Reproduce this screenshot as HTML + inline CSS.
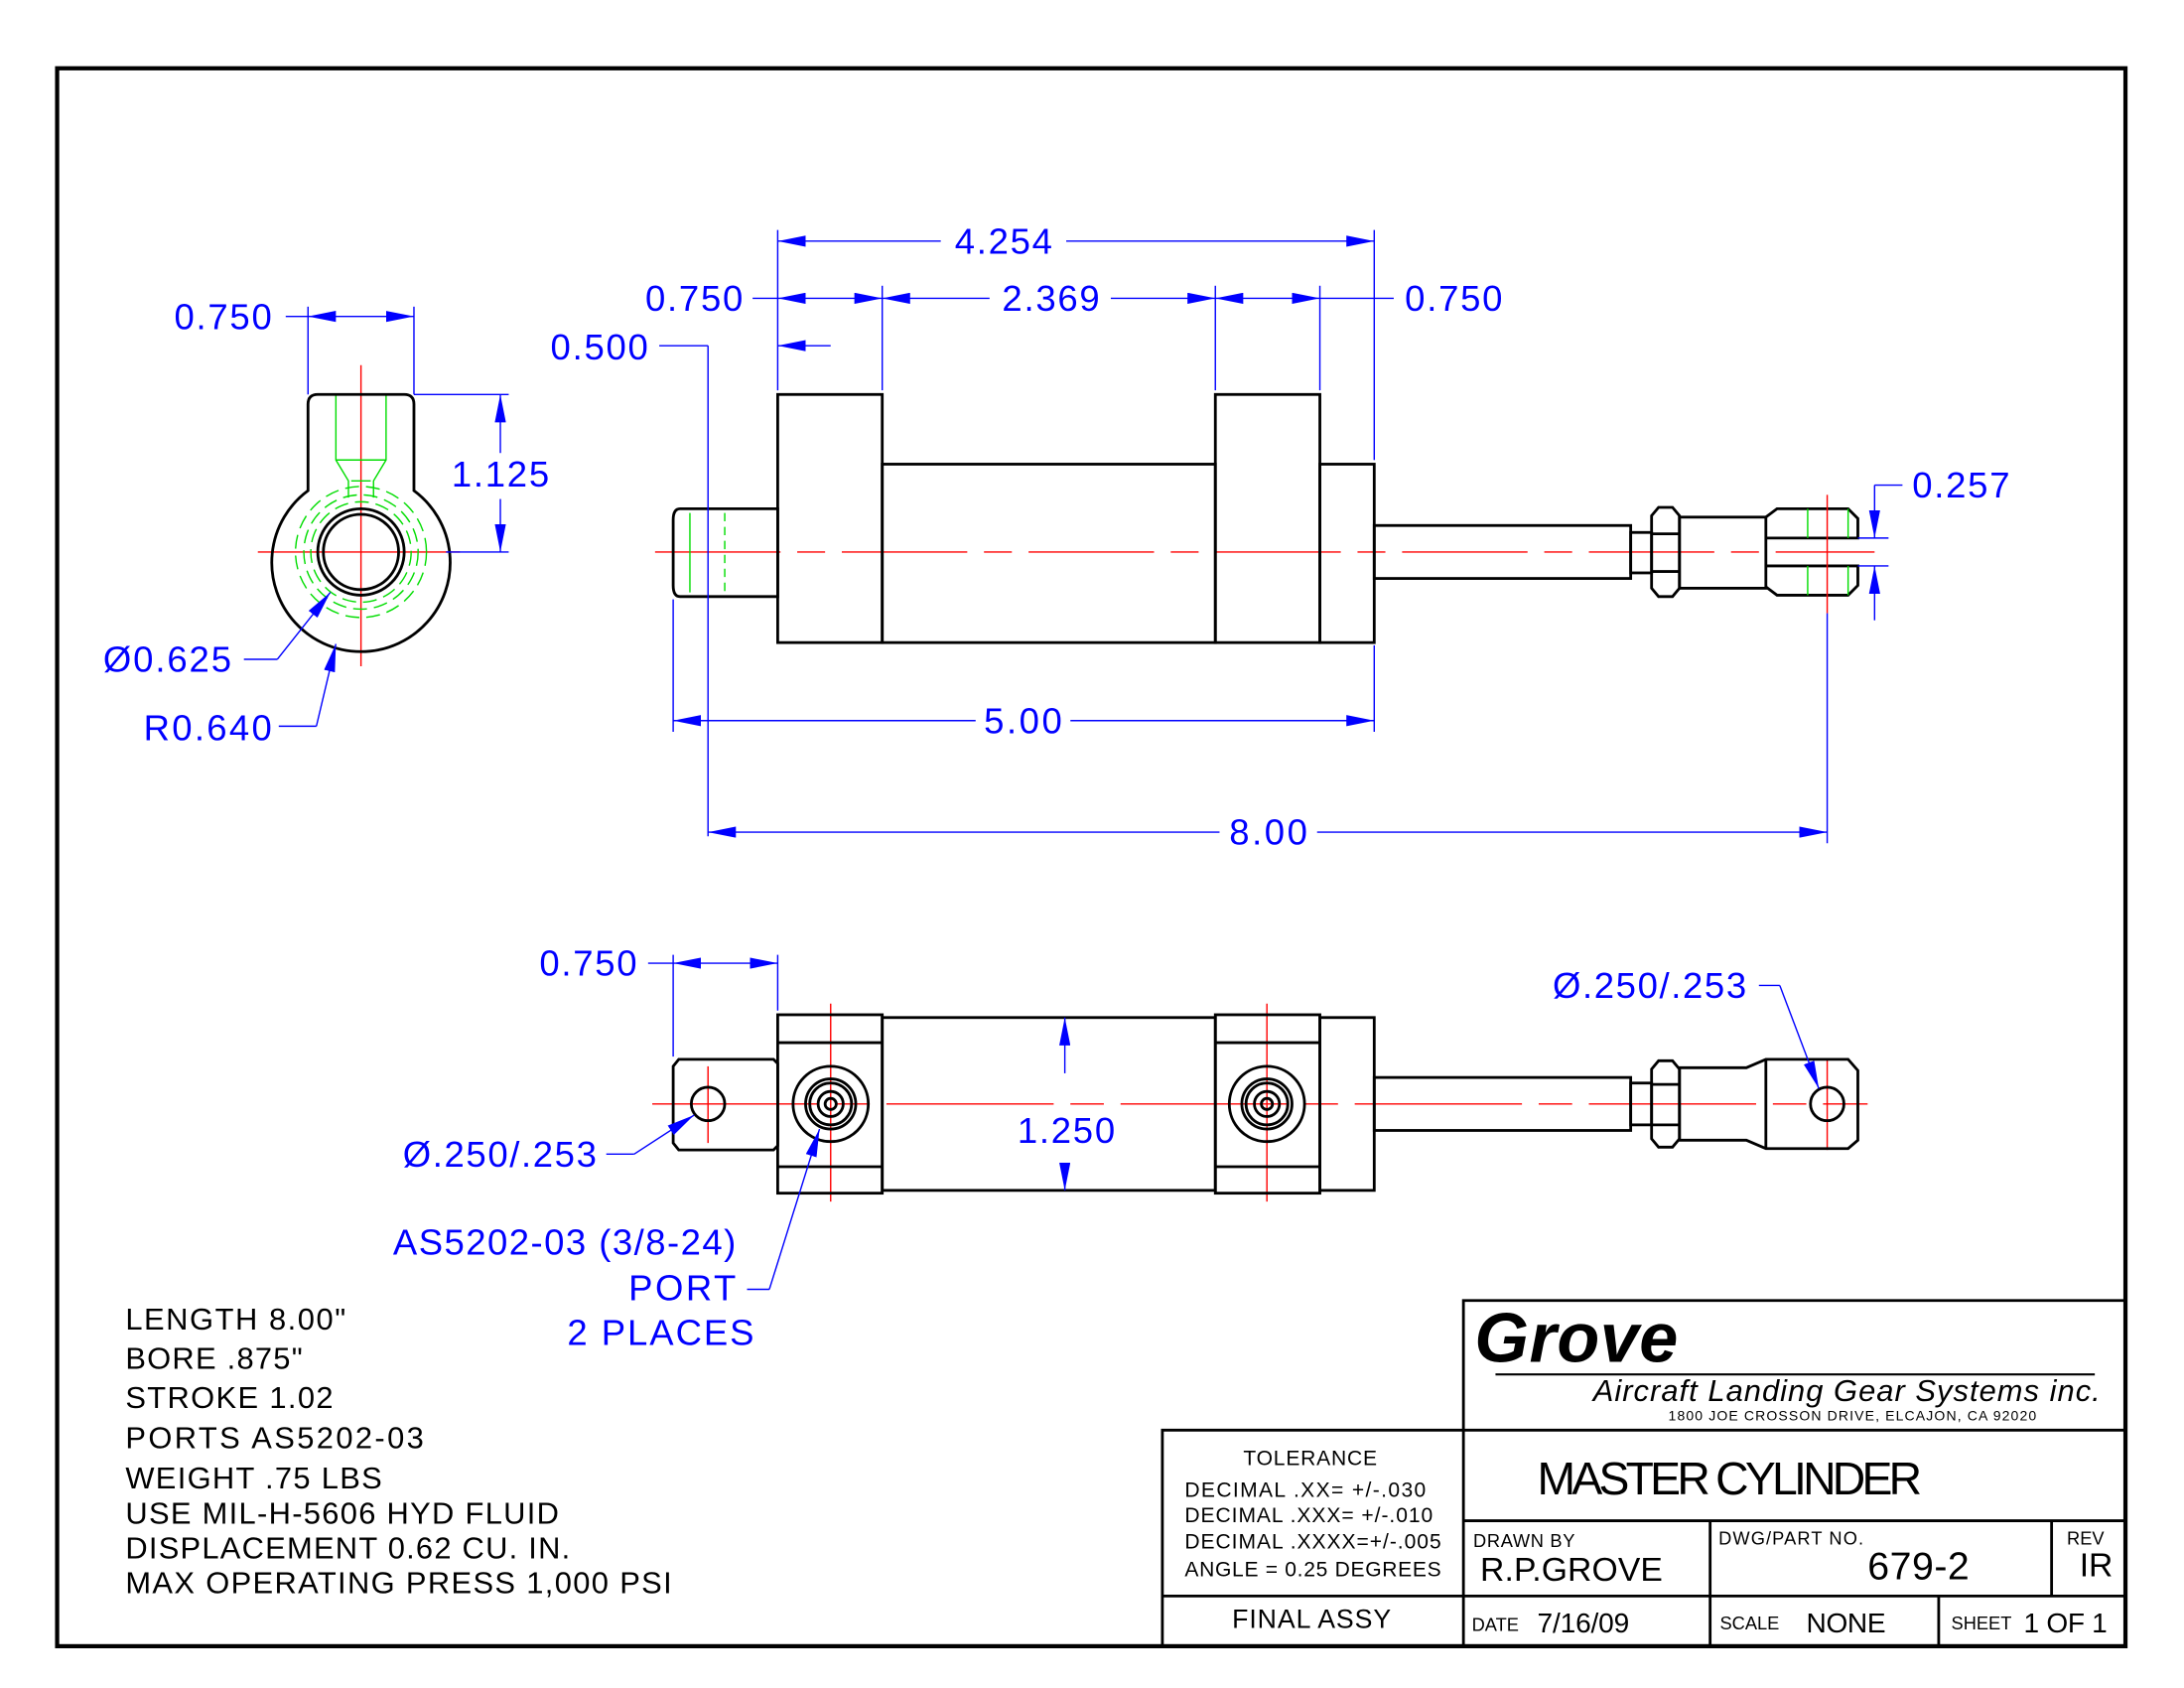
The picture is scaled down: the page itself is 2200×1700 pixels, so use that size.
<!DOCTYPE html>
<html><head><meta charset="utf-8"><style>html,body{margin:0;padding:0;background:#fff}svg{display:block}</style></head>
<body>
<svg width="2200" height="1700" viewBox="0 0 1567 1211" preserveAspectRatio="none" xmlns="http://www.w3.org/2000/svg" font-family="Liberation Sans, sans-serif">
<defs>
<marker id="a" viewBox="0 0 20 8" refX="20" refY="4" markerWidth="20" markerHeight="8" markerUnits="userSpaceOnUse" orient="auto-start-reverse"><path d="M0,0 L20,4 L0,8z" fill="#0000ff"/></marker>
</defs>
<rect x="41" y="49" width="1484" height="1132" fill="none" stroke="#000" stroke-width="3"/>

<!-- TOP VIEW -->
<g stroke="red" stroke-width="1" fill="none">
<line x1="470" y1="396" x2="1345" y2="396" stroke-dasharray="90,12,20,12"/>
</g>
<g stroke="#000" stroke-width="2" fill="none">
<path d="M488,365 L558,365 L558,428 L488,428 Q483,428 483,420 L483,373 Q483,365 488,365z"/>
<rect x="558" y="283" width="75" height="178"/>
<rect x="633" y="333" width="239" height="128"/>
<rect x="872" y="283" width="75" height="178"/>
<rect x="947" y="333" width="39" height="128"/>
<rect x="986" y="377" width="184" height="38"/>
<rect x="1170" y="382" width="15" height="29"/>
<path d="M1185,370 L1190,364 L1200,364 L1205,370 L1205,422 L1200,428 L1190,428 L1185,422z M1185,383 L1205,383 M1185,410 L1205,410"/>
<rect x="1205" y="371" width="62" height="51"/>
<path d="M1267,371 L1275,365 L1326,365 L1333,372 L1333,386 L1267,386 M1267,406 L1333,406 L1333,420 L1326,427 L1275,427 L1267,421"/>
</g>
<g stroke="#00dd00" stroke-width="1"><line x1="1297" y1="365" x2="1297" y2="386"/><line x1="1326" y1="365" x2="1326" y2="386"/><line x1="1297" y1="406" x2="1297" y2="427"/><line x1="1326" y1="406" x2="1326" y2="427"/><line x1="495" y1="368" x2="495" y2="425"/><line x1="520" y1="368" x2="520" y2="425" stroke-dasharray="6,4"/></g>
<line x1="1311" y1="355" x2="1311" y2="440" stroke="red"/>

<!-- EYE VIEW -->
<g stroke="red" stroke-width="1"><line x1="185" y1="396" x2="330" y2="396"/><line x1="259" y1="262" x2="259" y2="478"/></g>
<g stroke="#00dd00" stroke-width="1" fill="none" stroke-dasharray="10,5">
<circle cx="259" cy="396" r="47"/><circle cx="259" cy="396" r="41"/><circle cx="259" cy="396" r="36"/>
<path d="M241,283 L241,330 L250,345 L250,357 M277,283 L277,330 L268,345 L268,357 M241,330 L277,330 M252,345 L266,345" stroke-dasharray="none"/>
</g>
<g stroke="#000" stroke-width="2" fill="none">
<path d="M221,290 Q221,283 228,283 L290,283 Q297,283 297,290 L297,352 A64,64 0 1 1 221,352z"/>
<circle cx="259" cy="396" r="31"/><circle cx="259" cy="396" r="27"/>
</g>

<!-- SIDE VIEW -->
<g stroke="red" stroke-width="1" fill="none">
<line x1="468" y1="792" x2="1340" y2="792" stroke-dasharray="120,12,24,12"/>
<line x1="508" y1="765" x2="508" y2="820"/><line x1="596" y1="720" x2="596" y2="862"/><line x1="909" y1="720" x2="909" y2="862"/><line x1="1311" y1="760" x2="1311" y2="825"/>
</g>
<g stroke="#000" stroke-width="2" fill="none">
<path d="M487,760 L555,760 L558,763 L558,822 L555,825 L487,825 L483,820 L483,765z"/>
<circle cx="508" cy="792" r="12"/>
<rect x="558" y="728" width="75" height="128"/><line x1="558" y1="748" x2="633" y2="748"/><line x1="558" y1="837" x2="633" y2="837"/>
<rect x="633" y="730" width="239" height="124"/>
<rect x="872" y="728" width="75" height="128"/><line x1="872" y1="748" x2="947" y2="748"/><line x1="872" y1="837" x2="947" y2="837"/>
<rect x="947" y="730" width="39" height="124"/>
<rect x="986" y="773" width="184" height="38"/>
<rect x="1170" y="777" width="15" height="30"/>
<path d="M1185,767 L1190,761 L1200,761 L1205,767 L1205,817 L1200,823 L1190,823 L1185,817z M1185,778 L1205,778 M1185,807 L1205,807"/>
<path d="M1205,766 L1253,766 L1267,760 L1326,760 L1333,768 L1333,818 L1326,824 L1267,824 L1253,818 L1205,818z M1267,760 L1267,824"/>
<circle cx="1311" cy="792" r="12"/>
<ellipse cx="596" cy="792" rx="27" ry="27"/><circle cx="596" cy="792" r="18"/><circle cx="596" cy="792" r="15"/><circle cx="596" cy="792" r="9"/><circle cx="596" cy="792" r="4"/>
<ellipse cx="909" cy="792" rx="27" ry="27"/><circle cx="909" cy="792" r="18"/><circle cx="909" cy="792" r="15"/><circle cx="909" cy="792" r="9"/><circle cx="909" cy="792" r="4"/>
</g>

<!-- DIMENSIONS -->
<g stroke="#0000ff" stroke-width="1" fill="none">
<line x1="558" y1="165" x2="558" y2="280"/><line x1="986" y1="165" x2="986" y2="330"/>
<line x1="558" y1="173" x2="675" y2="173" marker-start="url(#a)"/><line x1="765" y1="173" x2="986" y2="173" marker-end="url(#a)"/>
<line x1="633" y1="205" x2="633" y2="280"/><line x1="872" y1="205" x2="872" y2="280"/><line x1="947" y1="205" x2="947" y2="280"/>
<line x1="540" y1="214" x2="558" y2="214"/><line x1="558" y1="214" x2="633" y2="214" marker-start="url(#a)" marker-end="url(#a)"/>
<line x1="633" y1="214" x2="710" y2="214" marker-start="url(#a)"/><line x1="797" y1="214" x2="872" y2="214" marker-end="url(#a)"/>
<line x1="872" y1="214" x2="947" y2="214" marker-start="url(#a)" marker-end="url(#a)"/><line x1="947" y1="214" x2="1000" y2="214"/>
<line x1="558" y1="248" x2="596" y2="248" marker-start="url(#a)"/><line x1="473" y1="248" x2="508" y2="248"/>
<line x1="508" y1="248" x2="508" y2="600"/><line x1="483" y1="430" x2="483" y2="525"/><line x1="986" y1="463" x2="986" y2="525"/>
<line x1="483" y1="517" x2="700" y2="517" marker-start="url(#a)"/><line x1="768" y1="517" x2="986" y2="517" marker-end="url(#a)"/>
<line x1="1311" y1="440" x2="1311" y2="605"/>
<line x1="508" y1="597" x2="875" y2="597" marker-start="url(#a)"/><line x1="945" y1="597" x2="1311" y2="597" marker-end="url(#a)"/>
<line x1="1345" y1="348" x2="1365" y2="348"/><line x1="1345" y1="348" x2="1345" y2="386" marker-end="url(#a)"/>
<line x1="1333" y1="386" x2="1355" y2="386"/><line x1="1333" y1="406" x2="1355" y2="406"/>
<line x1="1345" y1="445" x2="1345" y2="406" marker-end="url(#a)"/>
<line x1="221" y1="220" x2="221" y2="283"/><line x1="297" y1="220" x2="297" y2="283"/>
<line x1="205" y1="227" x2="221" y2="227"/><line x1="221" y1="227" x2="297" y2="227" marker-start="url(#a)" marker-end="url(#a)"/>
<line x1="297" y1="283" x2="365" y2="283"/><line x1="320" y1="396" x2="365" y2="396"/>
<line x1="359" y1="325" x2="359" y2="283" marker-end="url(#a)"/><line x1="359" y1="358" x2="359" y2="396" marker-end="url(#a)"/>
<line x1="175" y1="473" x2="199" y2="473"/><line x1="199" y1="473" x2="237" y2="425" marker-end="url(#a)"/>
<line x1="200" y1="521" x2="227" y2="521"/><line x1="227" y1="521" x2="241" y2="462" marker-end="url(#a)"/>
<line x1="483" y1="685" x2="483" y2="758"/><line x1="558" y1="685" x2="558" y2="725"/>
<line x1="465" y1="691" x2="483" y2="691"/><line x1="483" y1="691" x2="558" y2="691" marker-start="url(#a)" marker-end="url(#a)"/>
<line x1="764" y1="770" x2="764" y2="730" marker-end="url(#a)"/><line x1="764" y1="835" x2="764" y2="854" marker-end="url(#a)"/>
<line x1="435" y1="828" x2="455" y2="828"/><line x1="455" y1="828" x2="498" y2="800" marker-end="url(#a)"/>
<line x1="536" y1="925" x2="552" y2="925"/><line x1="552" y1="925" x2="588" y2="810" marker-end="url(#a)"/>
<line x1="1262" y1="707" x2="1277" y2="707"/><line x1="1277" y1="707" x2="1305" y2="781" marker-end="url(#a)"/>
</g>
<g fill="#0000ff" font-size="26">
<text x="685" y="182" textLength="70">4.254</text><text x="463" y="223" textLength="70">0.750</text><text x="719" y="223" textLength="70">2.369</text><text x="1008" y="223" textLength="70">0.750</text>
<text x="395" y="258" textLength="70">0.500</text><text x="706" y="526" textLength="56">5.00</text><text x="882" y="606" textLength="56">8.00</text><text x="1372" y="357" textLength="70">0.257</text>
<text x="125" y="236" textLength="70">0.750</text><text x="324" y="349" textLength="70">1.125</text><text x="74" y="482" textLength="92">Ø0.625</text><text x="103" y="531" textLength="92">R0.640</text>
<text x="387" y="700" textLength="70">0.750</text><text x="730" y="820" textLength="70">1.250</text><text x="289" y="837" textLength="139">Ø.250/.253</text><text x="1114" y="716" textLength="139">Ø.250/.253</text>
<text x="282" y="900" textLength="246">AS5202-03 (3/8-24)</text><text x="451" y="933" textLength="77">PORT</text><text x="407" y="965" textLength="134">2 PLACES</text>
</g>
<g font-size="22" fill="#000">
<text x="90" y="954" textLength="158">LENGTH 8.00"</text><text x="90" y="982" textLength="127">BORE .875"</text><text x="90" y="1010" textLength="149">STROKE 1.02</text>
<text x="90" y="1039" textLength="214">PORTS  AS5202-03</text><text x="90" y="1068" textLength="184">WEIGHT .75 LBS</text><text x="90" y="1093" textLength="311">USE MIL-H-5606 HYD FLUID</text>
<text x="90" y="1118" textLength="319">DISPLACEMENT 0.62 CU. IN.</text><text x="90" y="1143" textLength="392">MAX OPERATING PRESS 1,000 PSI</text>
</g>

<!-- TITLE BLOCK -->
<g stroke="#000" stroke-width="2" fill="none">
<path d="M1050,1181 L1050,933 L1525,933"/>
<path d="M834,1181 L834,1026 L1525,1026"/>
<line x1="1050" y1="1091" x2="1525" y2="1091"/>
<line x1="834" y1="1145" x2="1525" y2="1145"/>
<line x1="1227" y1="1091" x2="1227" y2="1181"/>
<line x1="1472" y1="1091" x2="1472" y2="1145"/>
<line x1="1391" y1="1145" x2="1391" y2="1181"/>
<line x1="1073" y1="986" x2="1503" y2="986" stroke-width="1.5"/>
</g>
<g fill="#000">
<text x="1058" y="977" font-size="50" font-weight="bold" font-style="italic" textLength="146">Grove</text>
<text x="1143" y="1005" font-size="22" font-style="italic" textLength="364">Aircraft Landing Gear Systems inc.</text>
<text x="1197" y="1019" font-size="10" textLength="264">1800 JOE CROSSON DRIVE, ELCAJON, CA 92020</text>
<text x="892" y="1051" font-size="15" textLength="96">TOLERANCE</text>
<text x="850" y="1074" font-size="15" textLength="173">DECIMAL  .XX=  +/-.030</text>
<text x="850" y="1092" font-size="15" textLength="178">DECIMAL  .XXX= +/-.010</text>
<text x="850" y="1111" font-size="15" textLength="184">DECIMAL  .XXXX=+/-.005</text>
<text x="850" y="1131" font-size="15" textLength="184">ANGLE = 0.25 DEGREES</text>
<text x="884" y="1168" font-size="19" textLength="114">FINAL ASSY</text>
<text x="1103" y="1072" font-size="33" textLength="276">MASTER CYLINDER</text>
<text x="1057" y="1110" font-size="13" textLength="73">DRAWN  BY</text>
<text x="1062" y="1134" font-size="24" textLength="131">R.P.GROVE</text>
<text x="1233" y="1108" font-size="13" textLength="104">DWG/PART  NO.</text>
<text x="1340" y="1133" font-size="28" textLength="73">679-2</text>
<text x="1483" y="1108" font-size="13">REV</text>
<text x="1492" y="1131" font-size="24">IR</text>
<text x="1056" y="1170" font-size="13">DATE</text><text x="1103" y="1171" font-size="20" textLength="66">7/16/09</text>
<text x="1234" y="1169" font-size="13">SCALE</text><text x="1296" y="1171" font-size="20" textLength="57">NONE</text>
<text x="1400" y="1169" font-size="13">SHEET</text><text x="1452" y="1171" font-size="20" textLength="60">1 OF 1</text>
</g>
</svg>
</body></html>
